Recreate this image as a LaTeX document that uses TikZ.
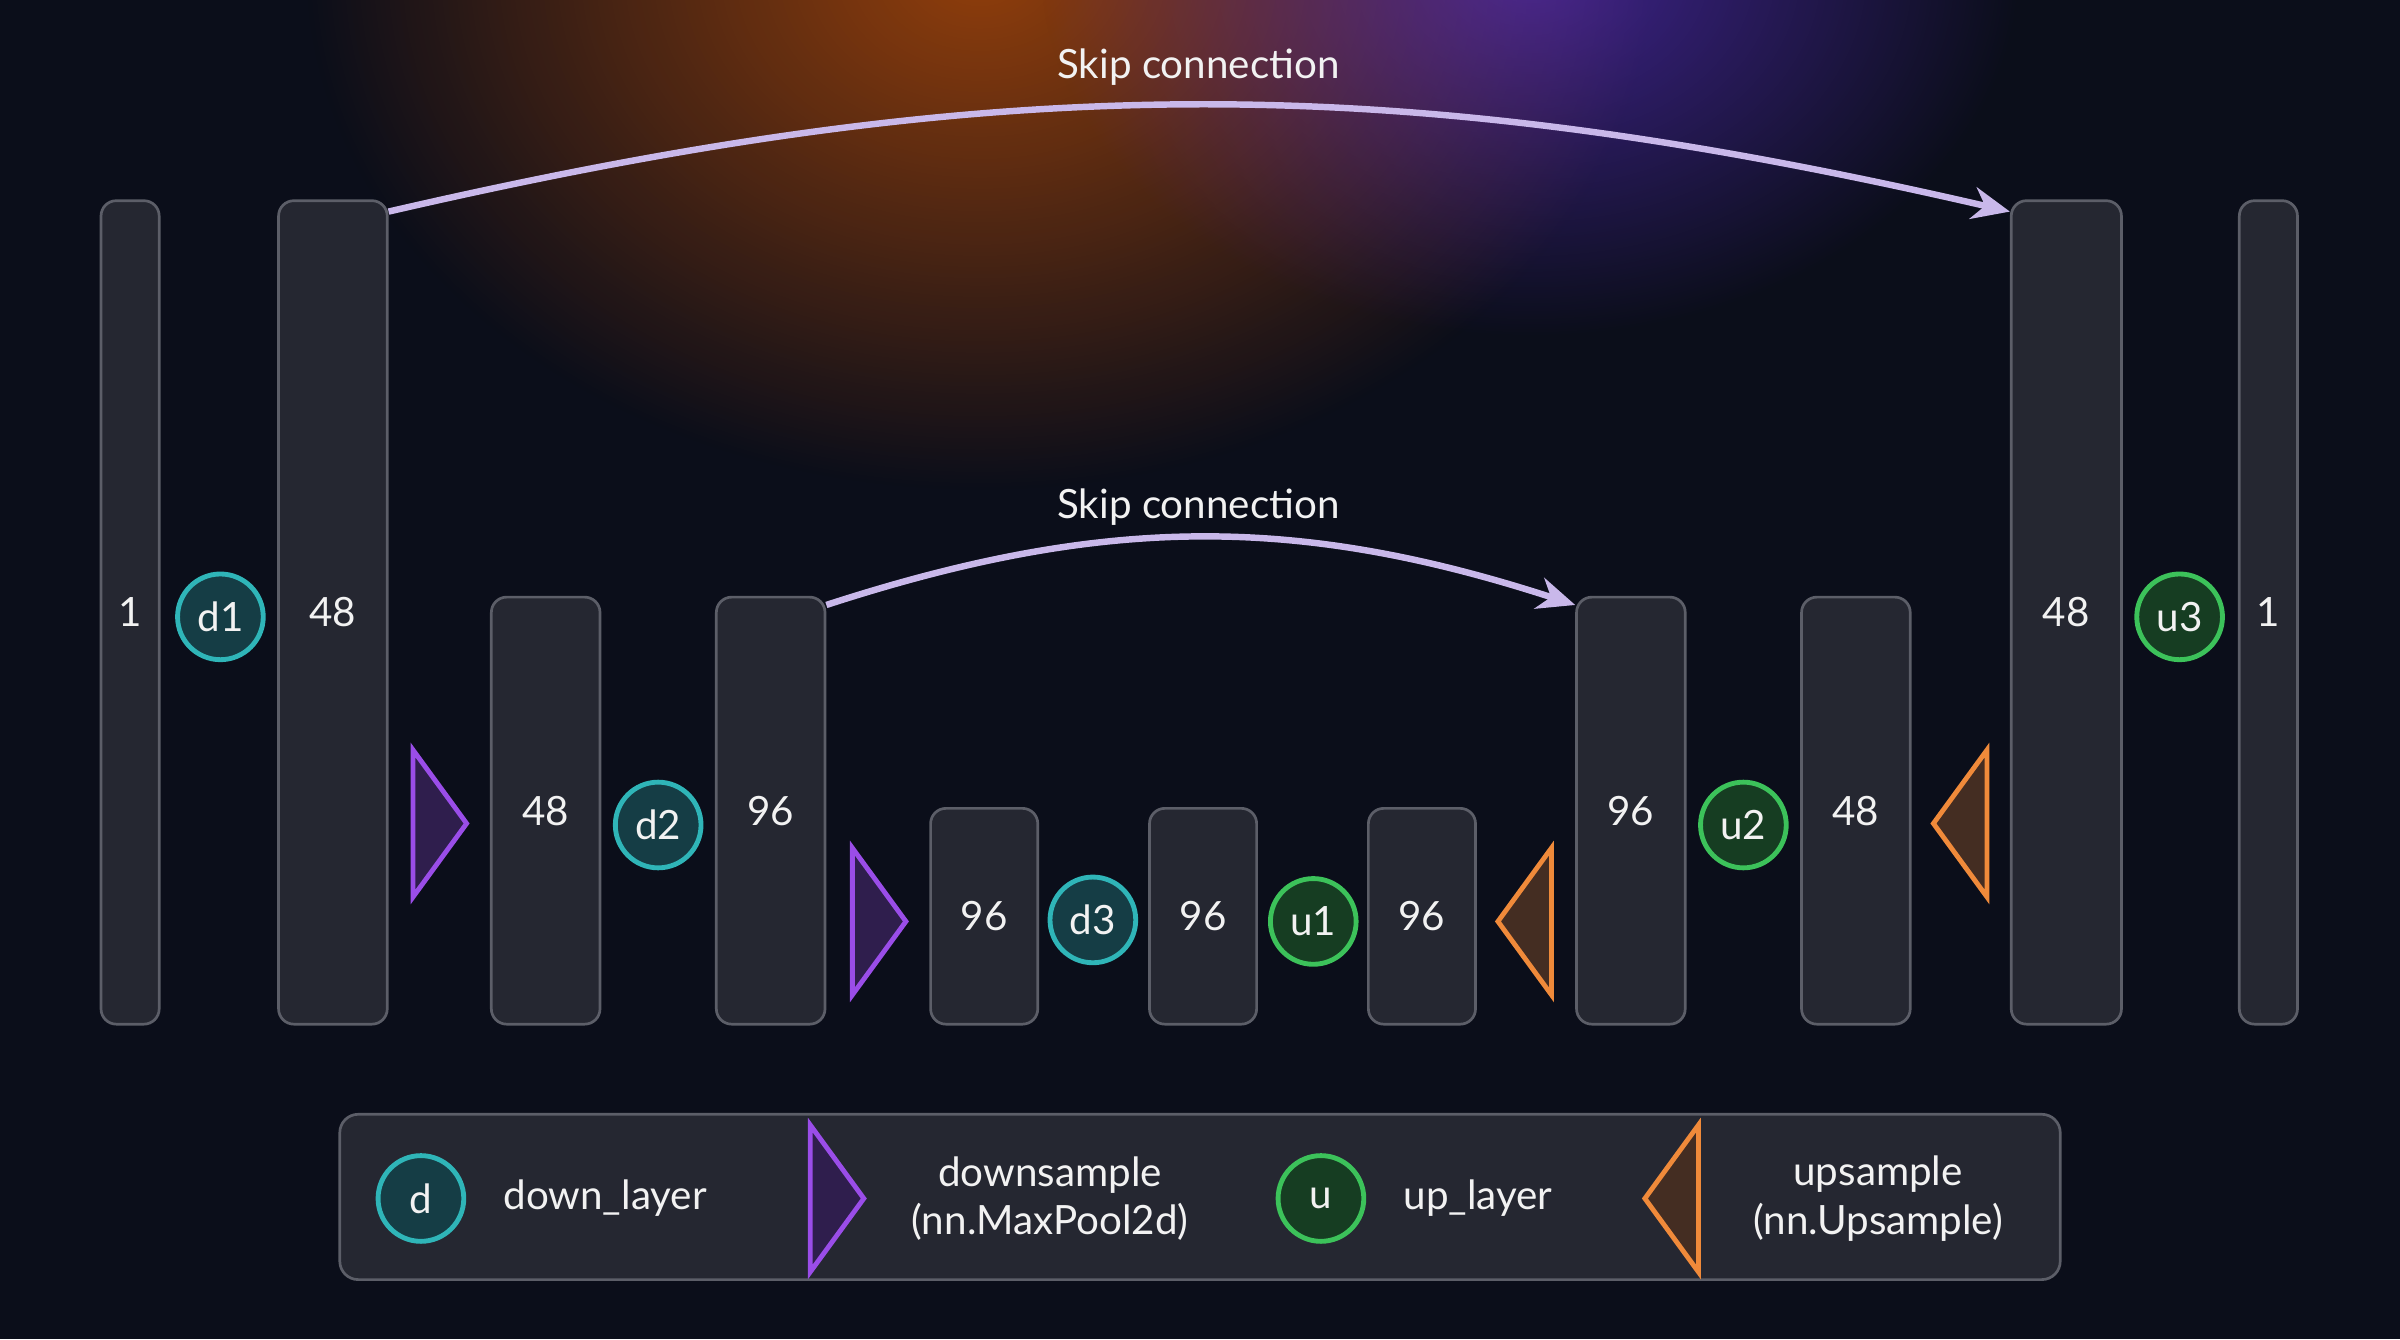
\documentclass[tikz,border=0pt]{standalone}
\usepackage{fontspec}
\setmainfont{Lato}
\usetikzlibrary{positioning, shapes.geometric, arrows.meta, fadings}
\definecolor{bg}{HTML}{0B0E1A}
\definecolor{barfill}{HTML}{2A2C36}
\definecolor{barline}{HTML}{5C5E68}
\definecolor{tealc}{HTML}{2FB5B8}
\definecolor{tealf}{HTML}{153D45}
\definecolor{greenc}{HTML}{3CC25A}
\definecolor{greenf}{HTML}{163D22}
\definecolor{purp}{HTML}{9A4DE8}
\definecolor{oran}{HTML}{F08A3A}
\definecolor{skipc}{HTML}{C9B8EA}
\tikzfading[name=glow, inner color=transparent!45, outer color=transparent!100]
\begin{document}
\begin{tikzpicture}[
    font=\fontsize{7.5}{9}\selectfont, text=white!90!gray,
    bar/.style={draw=barline, fill=barfill, fill opacity=.85, text opacity=1, rounded corners=.1cm, line width=.5pt, anchor=south, minimum height=5.38cm},
    tall/.style={bar, minimum height=5.38cm},
    mid/.style={bar, minimum height=2.79cm},
    low/.style={bar, minimum height=1.41cm},
    dn/.style={circle, draw=tealc, fill=tealf, line width=.9pt, minimum size=.56cm, inner sep=0pt},
    up/.style={circle, draw=greenc, fill=greenf, line width=.9pt, minimum size=.56cm, inner sep=0pt},
    pool/.style={isosceles triangle, isosceles triangle stretches, draw=purp, fill=purp!25!bg, line width=.9pt, minimum height=.35cm, minimum width=.96cm, inner sep=0pt},
    unpool/.style={pool, draw=oran, fill=oran!25!bg, shape border rotate=180},
    skip/.style={-{Stealth[length=7pt,width=6pt]}, draw=skipc, line width=1.2pt},
  ]
  % background
  \useasboundingbox (0,0) rectangle (15.68,-8.75);
  \begin{scope}
    \clip (0,0) rectangle (15.68,-8.75);
    \fill[bg] (0,0) rectangle (15.68,-8.75);
    \fill[orange!80!red, path fading=glow] (6.4,0.2) ellipse (4.4cm and 3.4cm);
    \fill[purp!70!blue, path fading=glow] (10.0,0.2) ellipse (3.2cm and 2.4cm);
  \end{scope}

  % encoder / decoder bars
  \node[tall, minimum width=.38cm] (b1) at (0.85,-6.70) {};
  \node[tall, minimum width=.71cm] (b2) at (2.175,-6.70) {};
  \node[mid, minimum width=.71cm] (b3) at (3.565,-6.70) {};
  \node[mid, minimum width=.71cm] (b4) at (5.035,-6.70) {};
  \node[low, minimum width=.70cm] (b5) at (6.43,-6.70) {};
  \node[low, minimum width=.70cm] (b6) at (7.86,-6.70) {};
  \node[low, minimum width=.70cm] (b7) at (9.29,-6.70) {};
  \node[mid, minimum width=.71cm] (b8) at (10.655,-6.70) {};
  \node[mid, minimum width=.71cm] (b9) at (12.125,-6.70) {};
  \node[tall, minimum width=.72cm] (b10) at (13.50,-6.70) {};
  \node[tall, minimum width=.38cm] (b11) at (14.82,-6.70) {};
  \foreach \b/\t in {b1/1, b2/48, b3/48, b4/96, b5/96, b6/96, b7/96, b8/96, b9/48, b10/48, b11/1}
    \node at (\b.center) {\t};

  % layers
  \node[dn] (d1) at (1.44,-4.03) {d1};
  \node[dn] (d2) at (4.30,-5.39) {d2};
  \node[dn] (d3) at (7.14,-6.01) {d3};
  \node[up] (u1) at (8.58,-6.02) {u1};
  \node[up] (u2) at (11.39,-5.39) {u2};
  \node[up] (u3) at (14.24,-4.03) {u3};

  % sampling
  \node[pool] (p1) at (2.855,-5.38) {};
  \node[pool] (p2) at (5.725,-6.02) {};
  \node[unpool] (q1) at (9.98,-6.02) {};
  \node[unpool] (q2) at (12.825,-5.38) {};

  % skip connections
  \draw[skip] ([yshift=-.08cm]b2.north east) to[bend left=13] ([yshift=-.08cm]b10.north west);
  \draw[skip] ([yshift=-.06cm]b4.north east) to[bend left=18] ([yshift=-.06cm]b8.north west);
  \node (s1) at (7.83,-0.44) {Skip connection};
  \node (s2) at (7.83,-3.31) {Skip connection};

  % legend
  \node[draw=barline, fill=barfill, fill opacity=.85, rounded corners=.12cm, line width=.5pt,
        minimum width=11.24cm, minimum height=1.08cm] (leg) at (7.84,-7.82) {};
  \node[dn] (ld) at (2.75,-7.83) {d};
  \node[right=.12cm of ld] (ldt) {down\_layer};
  \node[pool] (lp) at (5.45,-7.83) {};
  \node[align=center] (lpt) at (6.86,-7.83) {downsample\\(nn.MaxPool2d)};
  \node[up] (lu) at (8.63,-7.83) {u};
  \node[right=.12cm of lu] (lut) {up\_layer};
  \node[unpool] (lq) at (10.94,-7.83) {};
  \node[align=center] (lqt) at (12.27,-7.83) {upsample\\(nn.Upsample)};
\end{tikzpicture}
\end{document}
